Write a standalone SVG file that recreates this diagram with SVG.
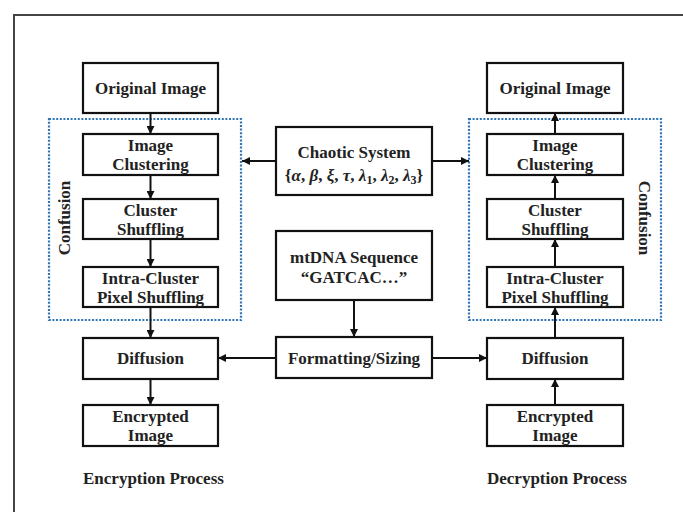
<svg xmlns="http://www.w3.org/2000/svg" width="683" height="512" viewBox="0 0 683 512">
<defs>
<style>
.box{fill:#fff;stroke:#111;stroke-width:2.2}
.dot{fill:none;stroke:#2e75b6;stroke-width:2.2;stroke-dasharray:2 1.6}
.t{font-family:"Liberation Serif","Times New Roman",serif;font-weight:bold;font-size:17px;fill:#222;text-anchor:middle}
.tl{font-family:"Liberation Serif","Times New Roman",serif;font-weight:bold;font-size:17px;fill:#222}
.m{font-style:italic}
.c{fill:none;stroke:#111;stroke-width:2}
.frame{fill:none;stroke:#444;stroke-width:2}
</style>
<marker id="ah" viewBox="0 0 10 10" refX="10" refY="5" markerWidth="4" markerHeight="4" orient="auto" markerUnits="strokeWidth">
<path d="M0,0 L10,5 L0,10 z" fill="#111"/>
</marker>
</defs>
<rect width="683" height="512" fill="#fff"/>
<path class="frame" d="M14,512 V15 H683"/>

<g id="confusion-left">
<rect class="dot" x="49" y="119" width="192" height="201"/>
<text class="t" transform="translate(70,218) rotate(-90)">Confusion</text>
</g>
<g id="confusion-right">
<rect class="dot" x="469" y="119" width="192" height="201"/>
<text class="t" transform="translate(639,218) rotate(90)">Confusion</text>
</g>

<g id="connectors">
<line class="c" x1="150.5" y1="113" x2="150.5" y2="134" marker-end="url(#ah)"/>
<line class="c" x1="150.5" y1="175" x2="150.5" y2="199" marker-end="url(#ah)"/>
<line class="c" x1="150.5" y1="239" x2="150.5" y2="267" marker-end="url(#ah)"/>
<line class="c" x1="150.5" y1="307" x2="150.5" y2="338" marker-end="url(#ah)"/>
<line class="c" x1="150.5" y1="379" x2="150.5" y2="405" marker-end="url(#ah)"/>
<line class="c" x1="555" y1="134" x2="555" y2="113" marker-end="url(#ah)"/>
<line class="c" x1="555" y1="199" x2="555" y2="175" marker-end="url(#ah)"/>
<line class="c" x1="555" y1="267" x2="555" y2="239" marker-end="url(#ah)"/>
<line class="c" x1="555" y1="338" x2="555" y2="307" marker-end="url(#ah)"/>
<line class="c" x1="555" y1="405" x2="555" y2="379" marker-end="url(#ah)"/>
<line class="c" x1="276" y1="161" x2="242" y2="161" marker-end="url(#ah)"/>
<line class="c" x1="432" y1="161" x2="469" y2="161" marker-end="url(#ah)"/>
<line class="c" x1="354" y1="300" x2="354" y2="337" marker-end="url(#ah)"/>
<line class="c" x1="276" y1="358" x2="218" y2="358" marker-end="url(#ah)"/>
<line class="c" x1="432" y1="358" x2="487" y2="358" marker-end="url(#ah)"/>
</g>

<g id="enc-original">
<rect class="box" x="83" y="63" width="135" height="50"/>
<text class="t" x="150.5" y="94">Original Image</text>
</g>
<g id="enc-clustering">
<rect class="box" x="83" y="134" width="135" height="41"/>
<text class="t" x="150.5" y="151">Image<tspan x="150.5" dy="19">Clustering</tspan></text>
</g>
<g id="enc-cluster-shuffling">
<rect class="box" x="83" y="199" width="135" height="40"/>
<text class="t" x="150.5" y="215.5">Cluster<tspan x="150.5" dy="19">Shuffling</tspan></text>
</g>
<g id="enc-intra">
<rect class="box" x="83" y="267" width="135" height="40"/>
<text class="t" x="150.5" y="283.5">Intra-Cluster<tspan x="150.5" dy="19">Pixel Shuffling</tspan></text>
</g>
<g id="enc-diffusion">
<rect class="box" x="83" y="338" width="135" height="41"/>
<text class="t" x="150.5" y="364">Diffusion</text>
</g>
<g id="enc-encrypted">
<rect class="box" x="83" y="405" width="135" height="41"/>
<text class="t" x="150.5" y="421.5">Encrypted<tspan x="150.5" dy="19">Image</tspan></text>
</g>

<g id="dec-original">
<rect class="box" x="487" y="63" width="136" height="50"/>
<text class="t" x="555" y="94">Original Image</text>
</g>
<g id="dec-clustering">
<rect class="box" x="487" y="134" width="136" height="41"/>
<text class="t" x="555" y="151">Image<tspan x="555" dy="19">Clustering</tspan></text>
</g>
<g id="dec-cluster-shuffling">
<rect class="box" x="487" y="199" width="136" height="40"/>
<text class="t" x="555" y="215.5">Cluster<tspan x="555" dy="19">Shuffling</tspan></text>
</g>
<g id="dec-intra">
<rect class="box" x="487" y="267" width="136" height="40"/>
<text class="t" x="555" y="283.5">Intra-Cluster<tspan x="555" dy="19">Pixel Shuffling</tspan></text>
</g>
<g id="dec-diffusion">
<rect class="box" x="487" y="338" width="136" height="41"/>
<text class="t" x="555" y="364">Diffusion</text>
</g>
<g id="dec-encrypted">
<rect class="box" x="487" y="405" width="136" height="41"/>
<text class="t" x="555" y="421.5">Encrypted<tspan x="555" dy="19">Image</tspan></text>
</g>

<g id="chaotic">
<rect class="box" x="276" y="127" width="156" height="68"/>
<text class="t" x="354" y="158">Chaotic System<tspan x="354" dy="23">{</tspan><tspan class="m">α</tspan>, <tspan class="m">β</tspan>, <tspan class="m">ξ</tspan>, <tspan class="m">τ</tspan>, <tspan class="m">λ</tspan><tspan font-size="12" dy="3">1</tspan><tspan dy="-3">, </tspan><tspan class="m">λ</tspan><tspan font-size="12" dy="3">2</tspan><tspan dy="-3">, </tspan><tspan class="m">λ</tspan><tspan font-size="12" dy="3">3</tspan><tspan dy="-3">}</tspan></text>
</g>
<g id="mtdna">
<rect class="box" x="276" y="231" width="156" height="69"/>
<text class="t" x="354" y="263">mtDNA Sequence<tspan x="354" dy="20">“GATCAC…”</tspan></text>
</g>
<g id="formatting">
<rect class="box" x="276" y="337" width="156" height="41"/>
<text class="t" x="354" y="364">Formatting/Sizing</text>
</g>

<text class="tl" x="83" y="484">Encryption Process</text>
<text class="tl" x="487" y="484">Decryption Process</text>
</svg>
